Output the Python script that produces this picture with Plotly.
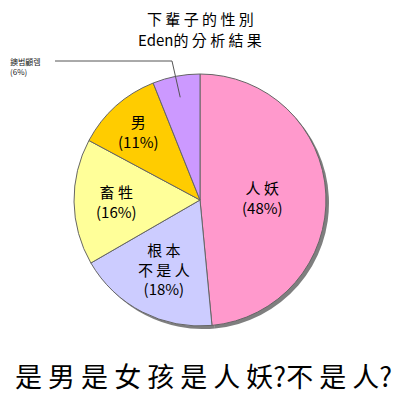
import math
import plotly.graph_objects as go

labels = ["人 妖", "根 本<br>不 是 人", "畜 牲", "男", "鐭범顧렘"]
values = [48, 18, 16, 11, 6]
pct_text = ["(48%)", "(18%)", "(16%)", "(11%)", "(6%)"]
colors = ["#FF99CC", "#CCCCFF", "#FFFF99", "#FFCC00", "#CC99FF"]
title_lines = ["下 輩 子 的 性 別", "Eden的 分 析 結 果"]
bottom_text = "是 男 是 女 孩 是 人 妖?不 是 人?"

W = H = 400
OFF = 8  # page body margin offset
font = "Noto Sans CJK TC"


def sx(x):
    return (x - OFF) / W


def sy(y):
    return 1 - (y - OFF) / H


cx, cy, R = 200, 200, 126
sh = 3

fig = go.Figure()
# shadow
fig.add_trace(go.Pie(
    values=values, sort=False, direction="clockwise", rotation=0,
    marker=dict(colors=["#555555"] * len(values), line=dict(width=0)),
    textinfo="none", hoverinfo="skip", showlegend=False, opacity=0.75,
    domain=dict(x=[sx(cx - R + sh), sx(cx + R + sh)],
                y=[sy(cy + R + sh), sy(cy - R + sh)]),
))
fig.add_trace(go.Pie(
    labels=labels, values=values, sort=False, direction="clockwise", rotation=0,
    marker=dict(colors=colors, line=dict(color="#666666", width=1)),
    textinfo="none", showlegend=False,
    domain=dict(x=[sx(cx - R), sx(cx + R)], y=[sy(cy + R), sy(cy - R)]),
))

total = sum(values)
radii = [0.5, 0.62, 0.66, 0.73]
cum = 0
annotations = []
for i, v in enumerate(values):
    mid = (cum + v / 2) / total * 2 * math.pi
    cum += v
    if i < 4:
        r = radii[i] * R
        px = cx + r * math.sin(mid)
        py = cy - r * math.cos(mid)
        annotations.append(dict(
            x=sx(px), y=sy(py), xref="paper", yref="paper",
            text=labels[i] + "<br>" + pct_text[i], showarrow=False,
            font=dict(family=font, size=15, color="black"),
            align="center", xanchor="center", yanchor="middle",
        ))

# small slice label with leader line
i = 4
mid = (total - values[i] / 2) / total * 2 * math.pi
ax0 = cx + 0.83 * R * math.sin(mid)
ay0 = cy - 0.83 * R * math.cos(mid)
shapes = [
    dict(type="line", xref="paper", yref="paper",
         x0=sx(ax0), y0=sy(ay0), x1=sx(172), y1=sy(61),
         line=dict(color="#555555", width=1)),
    dict(type="line", xref="paper", yref="paper",
         x0=sx(172), y0=sy(61), x1=sx(55), y1=sy(61),
         line=dict(color="#555555", width=1)),
]
annotations.append(dict(
    x=sx(8), y=sy(67), xref="paper", yref="paper",
    text=labels[i] + "<br>" + pct_text[i], showarrow=False,
    font=dict(family=font, size=8, color="#222222"),
    align="left", xanchor="left", yanchor="middle",
))
for k, ty in enumerate([19, 40]):
    annotations.append(dict(
        x=sx(200), y=sy(ty), xref="paper", yref="paper",
        text=title_lines[k], showarrow=False,
        font=dict(family=font, size=15, color="black"),
        align="center", xanchor="center", yanchor="middle",
    ))
annotations.append(dict(
    x=sx(203), y=sy(375), xref="paper", yref="paper",
    text=bottom_text, showarrow=False,
    font=dict(family=font, size=27, color="black"),
    align="center", xanchor="center", yanchor="middle",
))

fig.update_layout(
    width=W, height=H, margin=dict(l=0, r=0, t=0, b=0),
    paper_bgcolor="white", plot_bgcolor="white",
    annotations=annotations, shapes=shapes,
)
fig.write_html("out.html")
